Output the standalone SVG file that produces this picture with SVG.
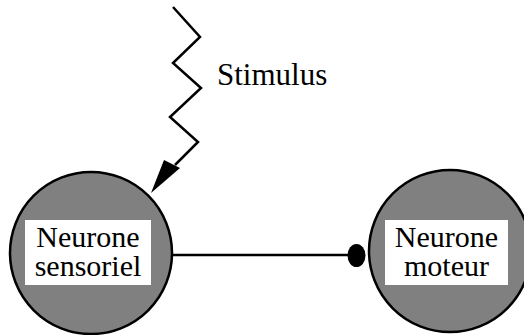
<svg xmlns="http://www.w3.org/2000/svg" width="524" height="335" viewBox="0 0 524 335">
<style>
.cell{fill:#808080;stroke:#000;stroke-width:2.5}
.box{fill:#fff}
.lbl{font-family:"Liberation Serif","Times New Roman",serif;font-size:30px;fill:#000;text-anchor:middle}
.wire{fill:none;stroke:#000;stroke-width:2.5}
</style>
<rect width="524" height="335" fill="#fff"/>
<g id="connectors">
<polyline class="wire" points="173,7 200,37 173,63 201,88 170,117 198,142 175,165"/>
<polygon points="164,160 180,168 151,193" fill="#000"/>
<line class="wire" x1="173" y1="255" x2="350" y2="255"/>
<ellipse cx="356.5" cy="255.5" rx="9" ry="11.5" fill="#000"/>
</g>
<g id="stimulus">
<text x="217" y="85" style="font-family:'Liberation Serif','Times New Roman',serif;font-size:31px;fill:#000">Stimulus</text>
</g>
<g id="neurone-sensoriel">
<circle class="cell" cx="91" cy="253" r="81"/>
<rect class="box" x="25" y="220" width="126" height="65"/>
<text class="lbl" x="88" y="247">Neurone</text>
<text class="lbl" x="88" y="276">sensoriel</text>
</g>
<g id="neurone-moteur">
<circle class="cell" cx="450" cy="251" r="81"/>
<rect class="box" x="385" y="220" width="123" height="65"/>
<text class="lbl" x="446.5" y="247">Neurone</text>
<text class="lbl" x="446.5" y="276">moteur</text>
</g>
</svg>
